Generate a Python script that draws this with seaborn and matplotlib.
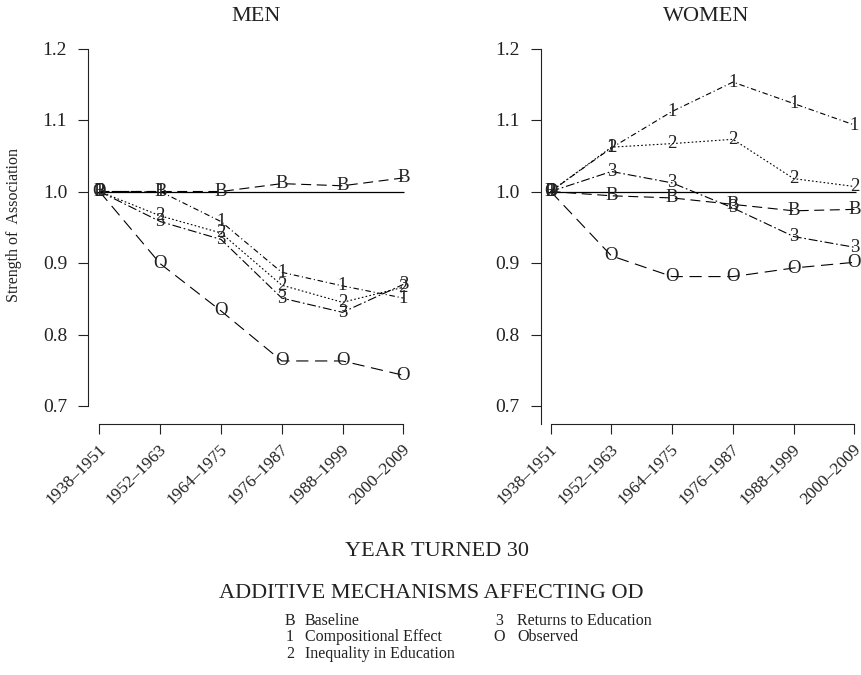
import numpy as np
import pandas as pd
import seaborn as sns
import matplotlib.pyplot as plt
import matplotlib.transforms as mtransforms

# cohorts (year turned 30) and mechanisms
cohorts = ['1938–1951', '1952–1963', '1964–1975', '1976–1987', '1988–1999', '2000–2009']
mechanisms = ['B', '1', '2', '3', 'O']
mech_names = ['Baseline', 'Compositional Effect', 'Inequality in Education',
              'Returns to Education', 'Observed']

# strength of association, men
men_B = [1.000, 1.000, 1.000, 1.011, 1.008, 1.019]
men_1 = [1.000, 1.000, 0.958, 0.887, 0.868, 0.851]
men_2 = [1.000, 0.966, 0.942, 0.869, 0.845, 0.866]
men_3 = [1.000, 0.958, 0.933, 0.851, 0.831, 0.870]
men_O = [1.000, 0.899, 0.833, 0.763, 0.763, 0.743]

# strength of association, women
women_B = [1.000, 0.994, 0.991, 0.982, 0.973, 0.975]
women_1 = [1.000, 1.061, 1.112, 1.153, 1.123, 1.093]
women_2 = [1.000, 1.062, 1.067, 1.073, 1.018, 1.007]
women_3 = [1.000, 1.028, 1.012, 0.977, 0.937, 0.922]
women_O = [1.000, 0.910, 0.881, 0.881, 0.893, 0.901]

men = dict(zip(mechanisms, [men_B, men_1, men_2, men_3, men_O]))
women = dict(zip(mechanisms, [women_B, women_1, women_2, women_3, women_O]))

def to_long(d):
    rows = []
    for m, vals in d.items():
        for i, v in enumerate(vals):
            rows.append({'pos': i, 'value': v, 'mech': m})
    return pd.DataFrame(rows)

sns.set_style('white')
plt.rcParams['font.family'] = ['Liberation Serif', 'DejaVu Serif']
plt.rcParams['text.color'] = '#222222'

serif = 'Liberation Serif'
dashes = {'B': (9, 5), '1': (5, 2.5, 1, 2.5), '2': (1.5, 2),
          '3': (8, 2.5, 1.5, 2.5), 'O': (11, 6)}
palette = {m: 'black' for m in mechanisms}

W, H = 862, 675
fig = plt.figure(figsize=(W / 100, H / 100), dpi=100)
ax_m = fig.add_axes([88.3 / W, (H - 406) / H, 318 / W, 357.5 / H])
ax_w = fig.add_axes([540.7 / W, (H - 406) / H, 318 / W, 357.5 / H])

for ax, data, xl, ylow in [(ax_m, men, -0.184, 0.7), (ax_w, women, -0.164, 0.675)]:
    df = to_long(data)
    ax.hlines(1.0, -0.06, 5.02, color='black', lw=0.9, zorder=1)
    sns.lineplot(data=df, x='pos', y='value', hue='mech', style='mech',
                 palette=palette, dashes=dashes, lw=0.8, legend=False, ax=ax)
    for line in ax.lines:
        line.set_clip_on(False)
    for _, r in df.iterrows():
        ax.text(r['pos'], r['value'], r['mech'], ha='center', va='center',
                fontsize=13.5, family=serif, color='#222222', clip_on=False)
    ax.set_xlim(xl, xl + 5.234)
    ax.set_ylim(0.7, 1.2)
    for s in ['top', 'right']:
        ax.spines[s].set_visible(False)
    ax.spines['left'].set_bounds(ylow, 1.2)
    ax.spines['bottom'].set_position(('outward', 13))
    ax.spines['bottom'].set_bounds(0, 5)
    for s in ['left', 'bottom']:
        ax.spines[s].set_color('#222222')
        ax.spines[s].set_linewidth(0.8)
    ax.set_xlabel('')
    ax.set_ylabel('')
    ax.grid(False)
    # ticks last: moving the spine rebuilds the ticks
    ax.tick_params(axis='both', direction='out', length=7.2, width=0.8,
                   colors='#222222', left=True, bottom=True)
    ax.tick_params(axis='y', pad=8, labelsize=14)
    ax.tick_params(axis='x', pad=9, labelsize=12.5)
    ax.set_yticks([0.7, 0.8, 0.9, 1.0, 1.1, 1.2])
    ax.set_yticklabels(['0.7', '0.8', '0.9', '1.0', '1.1', '1.2'])
    ax.set_xticks(range(len(cohorts)))
    ax.set_xticklabels(cohorts, rotation=45, ha='right', va='center',
                       rotation_mode='anchor')
    shift = mtransforms.ScaledTranslation(0.04, 0, fig.dpi_scale_trans)
    for lab in ax.get_xticklabels():
        lab.set_transform(lab.get_transform() + shift)

fig.text(256 / W, 1 - 16.5 / H, 'MEN', ha='center', va='center', fontsize=16)
fig.text(706 / W, 1 - 16.5 / H, 'WOMEN', ha='center', va='center', fontsize=16)
fig.text(14 / W, 1 - 225 / H, 'Strength of  Association', rotation=90,
         ha='center', va='center', fontsize=11.5)
fig.text(437 / W, 1 - 551 / H, 'YEAR TURNED 30', ha='center', va='center', fontsize=16)
fig.text(431 / W, 1 - 593 / H, 'ADDITIVE MECHANISMS AFFECTING OD',
         ha='center', va='center', fontsize=16)

# legend as two text columns: symbol centre x, name left x, row y
leg_pos = [(290, 305, 621), (290, 305, 637), (290, 305, 653.5),
           (499, 517, 621), (499, 517, 637)]
for (xs, xn, y), m, name in zip(leg_pos, mechanisms, mech_names):
    fig.text(xs / W, 1 - y / H, m, ha='center', va='center', fontsize=11.5)
    fig.text(xn / W, 1 - y / H, name, ha='left', va='center', fontsize=11.5)

fig.savefig('out.png', dpi=100)
